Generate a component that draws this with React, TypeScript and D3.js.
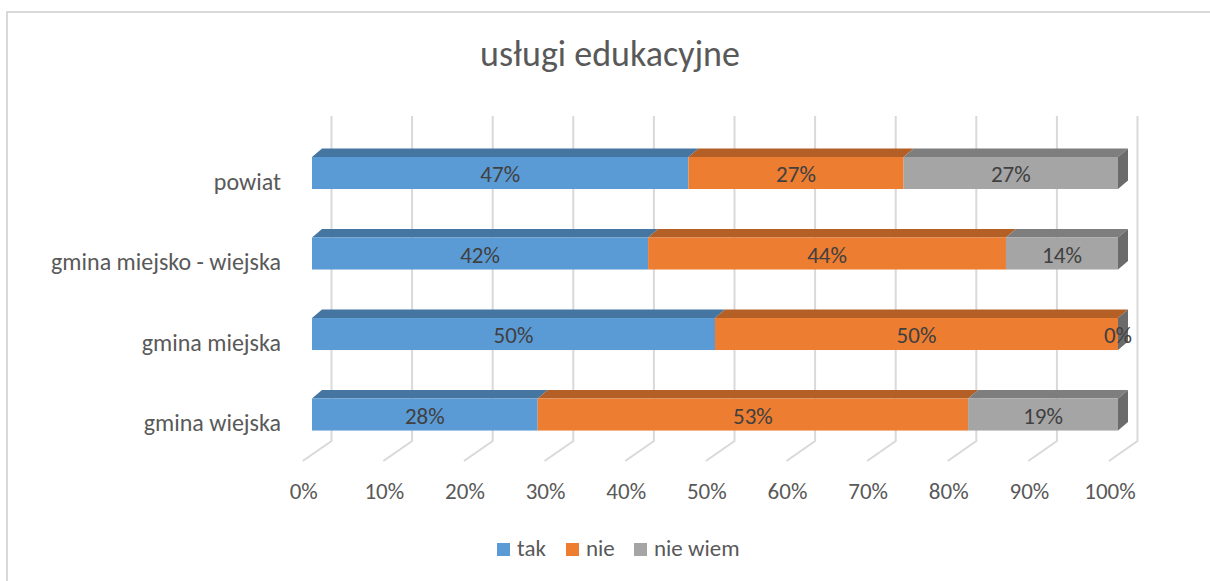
import React from "react";
import * as d3 from "d3";

const categories = ["powiat", "gmina miejsko - wiejska", "gmina miejska", "gmina wiejska"];
const seriesNames = ["tak", "nie", "nie wiem"];
const takValues = [0.467, 0.417, 0.5, 0.28];
const nieValues = [0.267, 0.444, 0.5, 0.534];
const nieWiemValues = [0.266, 0.139, 0, 0.186];
const xTicks = [0, 0.1, 0.2, 0.3, 0.4, 0.5, 0.6, 0.7, 0.8, 0.9, 1];

const frontColors = ["#5b9bd5", "#ed7d31", "#a5a5a5"];
const topColors = ["#4575a1", "#b45f25", "#7e7e7e"];
const sideColor = "#6b6b6b";
const FONT = "Calibri, Carlito, Lato, 'Open Sans', sans-serif";

const width = 1210;
const height = 581;

const App = () => {
  // bars front face
  const x = d3.scaleLinear().domain([0, 1]).range([312, 1118]);
  // floor (front edge) and back wall, same scale shifted in depth
  const xFloor = d3.scaleLinear().domain([0, 1]).range([302.7, 1109]);
  const xBack = d3.scaleLinear().domain([0, 1]).range([331.5, 1137.5]);
  const y = d3.scaleBand().domain(categories).range([116.75, 470.8]).paddingInner(0.6025).paddingOuter(0.5);

  const depth = { dx: 10, dy: 8.5 };
  const wallTop = 116;
  const wallBottom = 441;
  const floorFront = 461;

  const rows = categories.map((c, i) => ({
    cat: c,
    tak: takValues[i],
    nie: nieValues[i],
    "nie wiem": nieWiemValues[i],
  }));
  const stacked = d3.stack<any>().keys(seriesNames)(rows);
  const fmt = d3.format(".0%");

  return (
    <div style={{ position: "fixed", left: 0, top: 0 }}>
      <svg width={width} height={height} style={{ display: "block", background: "#fff" }}>
        <rect x={7} y={12} width={width + 10} height={height + 10} fill="#fff" stroke="#d9d9d9" strokeWidth={2} />
        <text x={610} y={66} textAnchor="middle" fontFamily={FONT} fontSize={36} fill="#595959">
          usługi edukacyjne
        </text>

        {/* gridlines: back wall + floor */}
        {xTicks.map((t) => (
          <path
            key={t}
            d={`M${xBack(t)},${wallTop}V${wallBottom}L${xFloor(t)},${floorFront}`}
            fill="none"
            stroke="#d9d9d9"
            strokeWidth={2}
          />
        ))}

        {/* bars */}
        {categories.map((c, ci) => {
          const by = y(c) as number;
          const bh = y.bandwidth();
          return (
            <g key={c}>
              {stacked.map((s, si) => {
                const [v0, v1] = s[ci];
                const x0 = x(v0);
                const x1 = x(v1);
                return (
                  <g key={s.key}>
                    <path
                      d={`M${x0},${by}L${x0 + depth.dx},${by - depth.dy}L${x1 + depth.dx},${by - depth.dy}L${x1},${by}Z`}
                      fill={topColors[si]}
                    />
                    <rect x={x0} y={by} width={Math.max(0, x1 - x0)} height={bh} fill={frontColors[si]} />
                  </g>
                );
              })}
              <path
                d={`M${x(1)},${by}L${x(1) + depth.dx},${by - depth.dy}V${by + bh - depth.dy}L${x(1)},${by + bh}Z`}
                fill={sideColor}
              />
              {stacked.map((s) => {
                const [v0, v1] = s[ci];
                return (
                  <text
                    key={s.key}
                    x={(x(v0) + x(v1)) / 2}
                    y={by + bh / 2 + 1}
                    dominantBaseline="central"
                    textAnchor="middle"
                    fontFamily={FONT}
                    fontSize={23}
                    fill="#404040"
                  >
                    {fmt(v1 - v0)}
                  </text>
                );
              })}
              <text
                x={281}
                y={by + bh / 2 + 8}
                dominantBaseline="central"
                textAnchor="end"
                fontFamily={FONT}
                fontSize={24}
                fill="#595959"
              >
                {c}
              </text>
            </g>
          );
        })}

        {/* x axis labels */}
        {xTicks.map((t) => (
          <text key={t} x={xFloor(t) + 1} y={499} textAnchor="middle" fontFamily={FONT} fontSize={23} fill="#595959">
            {fmt(t)}
          </text>
        ))}

        {/* legend */}
        {seriesNames.map((n, i) => {
          const lx = [497, 566, 634][i];
          return (
            <g key={n}>
              <rect x={lx} y={543} width={13} height={13} fill={frontColors[i]} />
              <text x={lx + 20} y={556} fontFamily={FONT} fontSize={23} fill="#595959">
                {n}
              </text>
            </g>
          );
        })}
      </svg>
    </div>
  );
};

export default App;
